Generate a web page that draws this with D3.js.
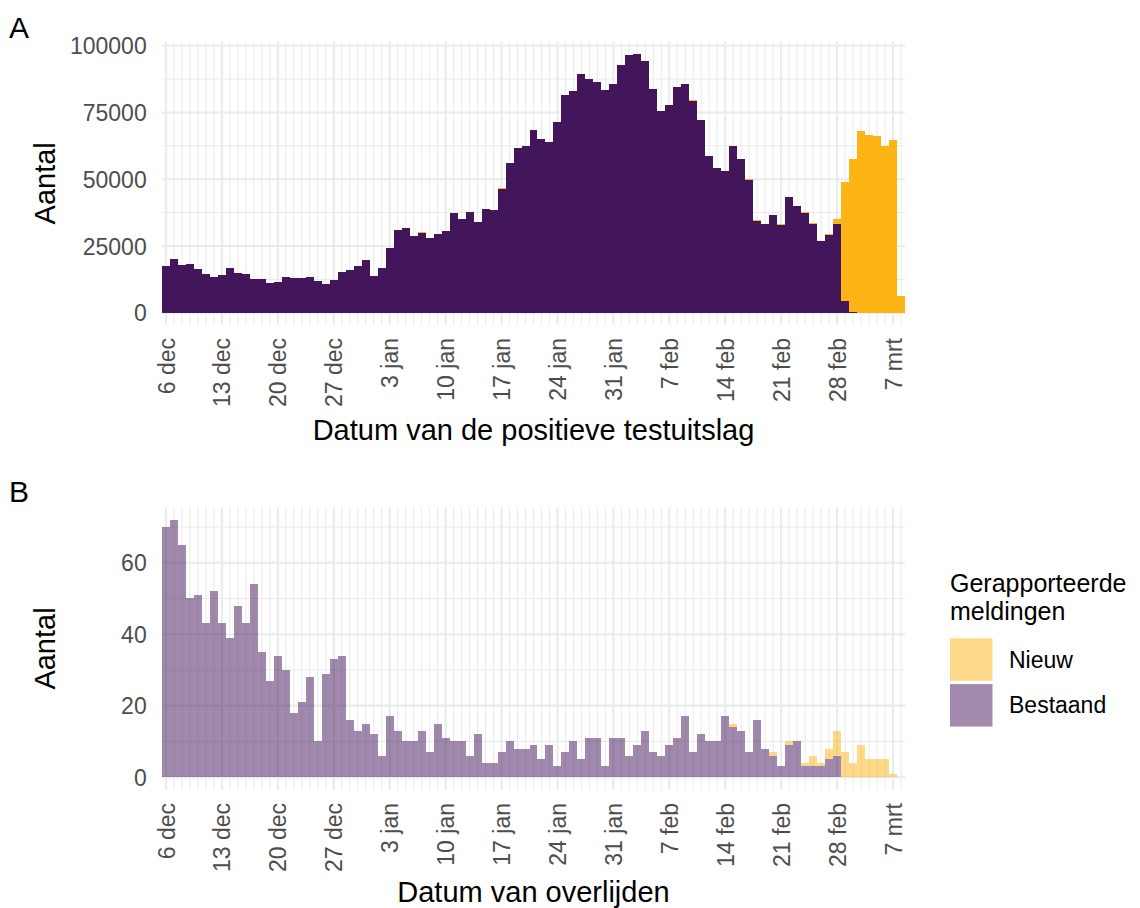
<!DOCTYPE html>
<html>
<head>
<meta charset="utf-8">
<script src="https://cdn.jsdelivr.net/npm/d3@7"></script>
<style>
  body { margin: 0; background: #fff; }
  svg { display: block; }
  text { font-family: "Liberation Sans", Arial, Helvetica, sans-serif; }
  .tick-label { fill: #4d4d4d; font-size: 23px; }
  .axis-title { fill: #000; font-size: 29px; }
  .tag { fill: #000; font-size: 30px; }
  .legend-title { fill: #000; font-size: 25px; }
  .legend-label { fill: #000; font-size: 23px; }
</style>
</head>
<body>
<svg id="chart" width="1140" height="908"></svg>
<script>
// one bar per day, 6 dec 2020 .. 8 mrt 2021
const firstDay = new Date(Date.UTC(2020, 11, 6));
const lastDay = new Date(Date.UTC(2021, 2, 8));
const days = d3.utcDay.range(firstDay, d3.utcDay.offset(lastDay, 1));

const tickLabels = ['6 dec', '13 dec', '20 dec', '27 dec', '3 jan', '10 jan', '17 jan',
  '24 jan', '31 jan', '7 feb', '14 feb', '21 feb', '28 feb', '7 mrt'];

const categories = ['Nieuw', 'Bestaand'];
const colors = { Nieuw: '#fdb414', Bestaand: '#43165c' };

// A: positive tests per day
const casesExisting = [
  17500, 20100, 17900, 18200, 16400, 14500, 13400, 14100, 16700, 14900,
  14500, 12600, 12600, 11100, 11500, 13400, 13000, 13000, 13400, 11900,
  10700, 12200, 15200, 16000, 17500, 19700, 13700, 16700, 24200, 31000,
  31700, 28700, 29850, 28000, 29500, 30600, 37300, 35100, 37700, 34000,
  38800, 38500, 46300, 56100, 61700, 62400, 68400, 65000, 63900, 71400,
  81500, 82900, 89400, 87400, 86400, 83400, 85600, 92800, 96500, 96900,
  94300, 83800, 75500, 77800, 84500, 85600, 79300, 72200, 58700, 54200,
  53100, 62400, 57600, 49800, 34500, 33200, 36600, 33000, 43300, 40000,
  37400, 33300, 26900, 29100, 33200, 4400, 300, 0, 0, 0,
  0, 0, 0
];
const casesNew = [
  0, 0, 0, 0, 0, 0, 0, 0, 0, 0,
  0, 0, 0, 0, 0, 0, 0, 0, 0, 0,
  0, 0, 0, 0, 0, 0, 0, 0, 0, 0,
  0, 0, 400, 0, 0, 0, 0, 0, 0, 0,
  0, 0, 400, 0, 0, 0, 0, 0, 0, 0,
  0, 300, 0, 300, 0, 0, 0, 0, 0, 0,
  0, 0, 0, 0, 0, 0, 400, 0, 0, 0,
  0, 0, 0, 300, 300, 0, 0, 300, 0, 0,
  300, 300, 0, 400, 1900, 44600, 57300, 68000, 66500, 66200,
  62400, 64700, 6200
];

// B: deaths per day
const deathsExisting = [
  70, 72, 65, 50, 51, 43, 52, 43, 39, 48,
  43, 54, 35, 27, 34, 30, 18, 21, 28, 10,
  29, 33, 34, 16, 13, 15, 12, 6, 17, 13,
  10, 10, 13, 7, 15, 11, 10, 10, 6, 12,
  4, 4, 7, 10, 8, 8, 9, 5, 9, 3,
  7, 10, 5, 11, 11, 3, 11, 11, 6, 9,
  13, 7, 6, 9, 11, 17, 7, 12, 10, 10,
  17, 14, 13, 7, 16, 8, 6, 3, 9, 10,
  3, 3, 3, 5, 6, 0, 0, 0, 0, 0,
  0, 0, 0
];
const deathsNew = [
  0, 0, 0, 0, 0, 0, 0, 0, 0, 0,
  0, 0, 0, 0, 0, 0, 0, 0, 0, 0,
  0, 0, 0, 0, 0, 0, 0, 0, 0, 0,
  0, 0, 0, 0, 0, 0, 0, 0, 0, 0,
  0, 0, 0, 0, 0, 0, 0, 0, 0, 0,
  0, 0, 0, 0, 0, 0, 0, 0, 0, 0,
  0, 0, 0, 0, 0, 0, 0, 0, 0, 0,
  0, 1, 0, 0, 0, 0, 1, 0, 1, 0,
  1, 3, 1, 3, 7, 7, 4, 9, 5, 5,
  5, 1, 0
];

const svg = d3.select('#chart');

class DayChart {

  constructor(_config, _existing, _new) {
    this.config = _config;
    this.data = days.map((d, i) => ({ date: d, Bestaand: _existing[i], Nieuw: _new[i] }));
    this.initVis();
  }

  initVis() {
    let vis = this;
    const c = vis.config;

    vis.xScale = d3.scaleUtc()
      .domain([d3.utcHour.offset(firstDay, -12), d3.utcHour.offset(lastDay, 12)])
      .range([c.left, c.right]);

    vis.yScale = d3.scaleLinear()
      .domain(c.yDomain)
      .range([c.bottom, c.top]);

    vis.weekTicks = d3.utcDay.range(firstDay, d3.utcDay.offset(lastDay, 1), 7);

    vis.g = svg.append('g');

    // grid: daily minor lines, weekly major lines
    const grid = vis.g.append('g').attr('stroke', '#ebebeb');
    grid.selectAll('.vminor').data(days).join('line')
      .attr('x1', d => vis.xScale(d)).attr('x2', d => vis.xScale(d))
      .attr('y1', c.top).attr('y2', c.bottom)
      .attr('stroke-width', 1.07);
    grid.selectAll('.hminor').data(c.yMinor).join('line')
      .attr('x1', c.left).attr('x2', c.right)
      .attr('y1', d => vis.yScale(d)).attr('y2', d => vis.yScale(d))
      .attr('stroke-width', 1.07);
    grid.selectAll('.vmajor').data(vis.weekTicks).join('line')
      .attr('x1', d => vis.xScale(d)).attr('x2', d => vis.xScale(d))
      .attr('y1', c.top).attr('y2', c.bottom)
      .attr('stroke-width', 2.13);
    grid.selectAll('.hmajor').data(c.yTicks).join('line')
      .attr('x1', c.left).attr('x2', c.right)
      .attr('y1', d => vis.yScale(d)).attr('y2', d => vis.yScale(d))
      .attr('stroke-width', 2.13);

    // stacked bars, existing at the bottom
    const series = d3.stack().keys(['Bestaand', 'Nieuw'])(vis.data);
    const bars = vis.g.append('g').attr('opacity', c.barOpacity);
    bars.selectAll('g').data(series).join('g')
      .attr('fill', s => colors[s.key])
      .selectAll('rect').data(s => s).join('rect')
      .attr('shape-rendering', 'crispEdges')
      .attr('x', d => vis.xScale(d3.utcHour.offset(d.data.date, -12)))
      .attr('width', d => vis.xScale(d3.utcHour.offset(d.data.date, 12)) - vis.xScale(d3.utcHour.offset(d.data.date, -12)))
      .attr('y', d => vis.yScale(d[1]))
      .attr('height', d => vis.yScale(d[0]) - vis.yScale(d[1]));

    // x axis with rotated date labels
    const xAxis = d3.axisBottom(vis.xScale)
      .tickValues(vis.weekTicks)
      .tickFormat((d, i) => tickLabels[i])
      .tickSize(0);
    const xAxisG = vis.g.append('g')
      .attr('transform', `translate(0,${c.bottom})`)
      .call(xAxis);
    xAxisG.select('.domain').remove();
    xAxisG.selectAll('text')
      .attr('class', 'tick-label')
      .attr('transform', 'rotate(-90)')
      .attr('text-anchor', 'end')
      .attr('x', -13)
      .attr('y', 0)
      .attr('dy', '0.35em');

    const yAxis = d3.axisLeft(vis.yScale)
      .tickValues(c.yTicks)
      .tickFormat(d3.format('d'))
      .tickSize(0)
      .tickPadding(15.3);
    const yAxisG = vis.g.append('g')
      .attr('transform', `translate(${c.left},0)`)
      .call(yAxis);
    yAxisG.select('.domain').remove();
    yAxisG.selectAll('text')
      .attr('class', 'tick-label')
      .attr('dy', '0.35em');

    // titles
    vis.g.append('text')
      .attr('class', 'axis-title')
      .attr('text-anchor', 'middle')
      .attr('x', (c.left + c.right) / 2)
      .attr('y', c.xTitleY)
      .text(c.xTitle);

    vis.g.append('text')
      .attr('class', 'axis-title')
      .attr('text-anchor', 'middle')
      .attr('transform', `translate(55,${(c.top + c.bottom) / 2}) rotate(-90)`)
      .text('Aantal');

    vis.g.append('text')
      .attr('class', 'tag')
      .attr('x', 9)
      .attr('y', c.tagY)
      .text(c.tag);
  }
}

new DayChart({
  left: 162, right: 905, top: 41.7, bottom: 325,
  yDomain: [-4600, 101500],
  yTicks: [0, 25000, 50000, 75000, 100000],
  yMinor: [12500, 37500, 62500, 87500],
  barOpacity: 1,
  xTitle: 'Datum van de positieve testuitslag',
  xTitleY: 440,
  tag: 'A', tagY: 38
}, casesExisting, casesNew);

new DayChart({
  left: 162, right: 905, top: 507, bottom: 790,
  yDomain: [-3.6, 75.6],
  yTicks: [0, 20, 40, 60],
  yMinor: [10, 30, 50, 70],
  barOpacity: 0.5,
  xTitle: 'Datum van overlijden',
  xTitleY: 902,
  tag: 'B', tagY: 502
}, deathsExisting, deathsNew);

// legend
const legend = svg.append('g').attr('transform', 'translate(950,0)');
legend.append('text')
  .attr('class', 'legend-title')
  .selectAll('tspan')
  .data(['Gerapporteerde', 'meldingen'])
  .join('tspan')
  .attr('x', 0)
  .attr('y', (d, i) => 592 + i * 27.5)
  .text(d => d);

const keySize = 42.5;
const keys = legend.selectAll('.key')
  .data(categories)
  .join('g')
  .attr('class', 'key')
  .attr('transform', (d, i) => `translate(0,${638.3 + i * 45.8})`);
keys.append('rect')
  .attr('width', keySize)
  .attr('height', keySize)
  .attr('fill', d => colors[d])
  .attr('opacity', 0.5);
keys.append('text')
  .attr('class', 'legend-label')
  .attr('x', 59)
  .attr('y', keySize / 2)
  .attr('dy', '0.35em')
  .text(d => d);
</script>
</body>
</html>
